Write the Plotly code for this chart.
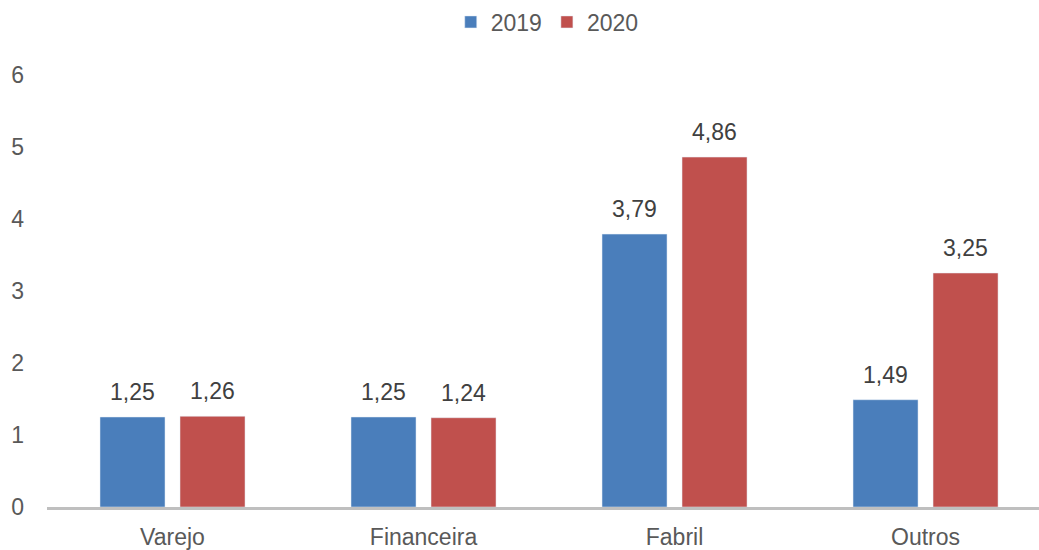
import plotly.graph_objects as go

categories = ["Varejo", "Financeira", "Fabril", "Outros"]
values_2019 = [1.25, 1.25, 3.79, 1.49]
values_2020 = [1.26, 1.24, 4.86, 3.25]
labels_2019 = ["1,25", "1,25", "3,79", "1,49"]
labels_2020 = ["1,26", "1,24", "4,86", "3,25"]
y_ticks = [0, 1, 2, 3, 4, 5, 6]

BLUE = "#4a7ebb"
RED = "#c0504d"
FONT = "Liberation Sans, Arial, Helvetica, sans-serif"
FS = 23

fig = go.Figure()
fig.add_trace(go.Bar(name="2019", x=categories, y=values_2019, marker_color=BLUE))
fig.add_trace(go.Bar(name="2020", x=categories, y=values_2020, marker_color=RED))

annotations = []
for cat, v, t in zip(categories, values_2019, labels_2019):
    annotations.append(dict(x=cat, y=v, text=t, showarrow=False, xshift=-40, yshift=25,
                            yanchor="middle", font=dict(size=FS, color="#404040", family=FONT)))
for cat, v, t in zip(categories, values_2020, labels_2020):
    annotations.append(dict(x=cat, y=v, text=t, showarrow=False, xshift=40, yshift=25,
                            yanchor="middle", font=dict(size=FS, color="#404040", family=FONT)))

fig.update_layout(
    width=1039, height=550,
    margin=dict(l=47, r=0, t=75, b=43),
    paper_bgcolor="white", plot_bgcolor="white",
    barmode="group", bargap=0.3625, bargroupgap=0.1875,
    font=dict(family=FONT, size=FS, color="#595959"),
    legend=dict(orientation="h", x=0.407, xanchor="left", y=1.1227, yanchor="middle",
                font=dict(size=FS, color="#595959"), itemwidth=30, traceorder="normal"),
    annotations=annotations,
    xaxis=dict(range=[-0.5, 3.452], showgrid=False, showline=True, linecolor="#bfbfbf",
               linewidth=3, ticks="", tickfont=dict(size=FS, color="#595959"),
               ticklabelstandoff=7, automargin=False),
    yaxis=dict(range=[0, 6], tickvals=y_ticks, showgrid=False, zeroline=False, showline=False,
               ticks="", tickfont=dict(size=FS, color="#595959"), ticklabelstandoff=22,
               automargin=False),
)

fig.write_html("out.html")
